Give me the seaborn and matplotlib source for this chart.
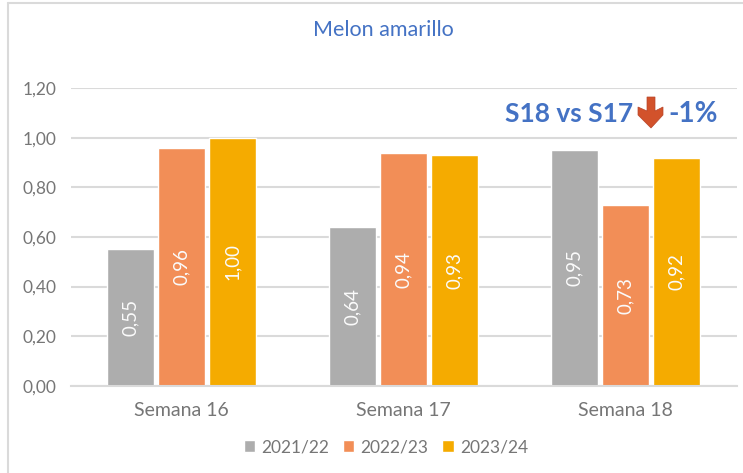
import matplotlib
matplotlib.use("Agg")
import matplotlib.pyplot as plt
from matplotlib.lines import Line2D
from matplotlib.patches import Polygon
import pandas as pd
import seaborn as sns

semanas = ["Semana 16", "Semana 17", "Semana 18"]
temporadas = ["2021/22", "2022/23", "2023/24"]
v_2122 = [0.55, 0.64, 0.95]
v_2223 = [0.96, 0.94, 0.73]
v_2324 = [1.00, 0.93, 0.92]
colores = ["#ADADAD", "#F28E57", "#F5AB00"]
y_ticks = [0.0, 0.2, 0.4, 0.6, 0.8, 1.0, 1.2]

W, H = 743, 473

df = pd.DataFrame({
    "semana": semanas * 3,
    "temporada": [t for t in temporadas for _ in semanas],
    "valor": v_2122 + v_2223 + v_2324,
})

sns.set_theme(style="white")
plt.rcParams["font.family"] = ["Lato", "DejaVu Sans"]

fig = plt.figure(figsize=(W / 100, H / 100), dpi=100, facecolor="white")
ax = fig.add_axes([70.5 / W, 1 - 385.7 / H, 666 / W, 297.4 / H])

sns.barplot(data=df, x="semana", y="valor", hue="temporada", palette=colores,
            order=semanas, hue_order=temporadas, width=0.69, gap=0.08,
            saturation=1, errorbar=None, ax=ax)

ax.set_xlim(-0.5, 2.5)
ax.set_ylim(0, 1.2)
ax.set_xlabel("")
ax.set_ylabel("")
ax.set_yticks(y_ticks)
ax.set_yticklabels([f"{v:.2f}".replace(".", ",") for v in y_ticks])
ax.tick_params(axis="x", length=0, labelsize=14, labelcolor="#767676", pad=12)
ax.tick_params(axis="y", length=0, labelsize=12.5, labelcolor="#767676", pad=10)
ax.grid(axis="y", color="#DADADA", lw=1.5)
ax.set_axisbelow(True)
sns.despine(ax=ax, left=True, top=True, right=True)
ax.spines["bottom"].set_color("#DADADA")
ax.spines["bottom"].set_linewidth(1.5)

for cont in ax.containers:
    ax.bar_label(cont, labels=[f"{v:.2f}".replace(".", ",") for v in cont.datavalues],
                 label_type="center", rotation=90, color="#FBFBFB", fontsize=13.5)

handles, labels = ax.get_legend_handles_labels()
ax.legend(handles, labels, loc="center", bbox_to_anchor=(386 / W, 1 - 447 / H),
          bbox_transform=fig.transFigure, ncol=3, frameon=False, fontsize=12.5,
          labelcolor="#767676", handlelength=0.65, handleheight=0.7,
          handletextpad=0.35, columnspacing=0.8)

fig.text(383 / W, 1 - 30 / H, "Melon amarillo", color="#4472C4", fontsize=15.5,
         ha="center", va="center")

# recuadro exterior y texto de variacion
px = lambda x, y: (x / W, 1 - y / H)
fig.add_artist(Line2D([8 / W, 8 / W], [0, 1 - 3 / H], color="#DADADA", lw=1.5))
fig.add_artist(Line2D([8 / W, 1], [1 - 3 / H, 1 - 3 / H], color="#DADADA", lw=1.5))
fig.text(505 / W, 1 - 114 / H, "S18 vs S17", color="#4472C4", fontsize=19,
         fontweight="bold", ha="left", va="center")
fig.text(668 / W, 1 - 114 / H, "-1%", color="#4472C4", fontsize=20,
         fontweight="bold", ha="left", va="center")
flecha = [px(647, 97), px(655, 97), px(655, 111), px(663, 107), px(663, 115),
          px(651, 128), px(638, 115), px(638, 107), px(647, 111)]
fig.add_artist(Polygon(flecha, closed=True, transform=fig.transFigure,
                       facecolor="#D2522B", edgecolor="#B8452A", lw=0.5))

fig.savefig("out.png", dpi=100)
